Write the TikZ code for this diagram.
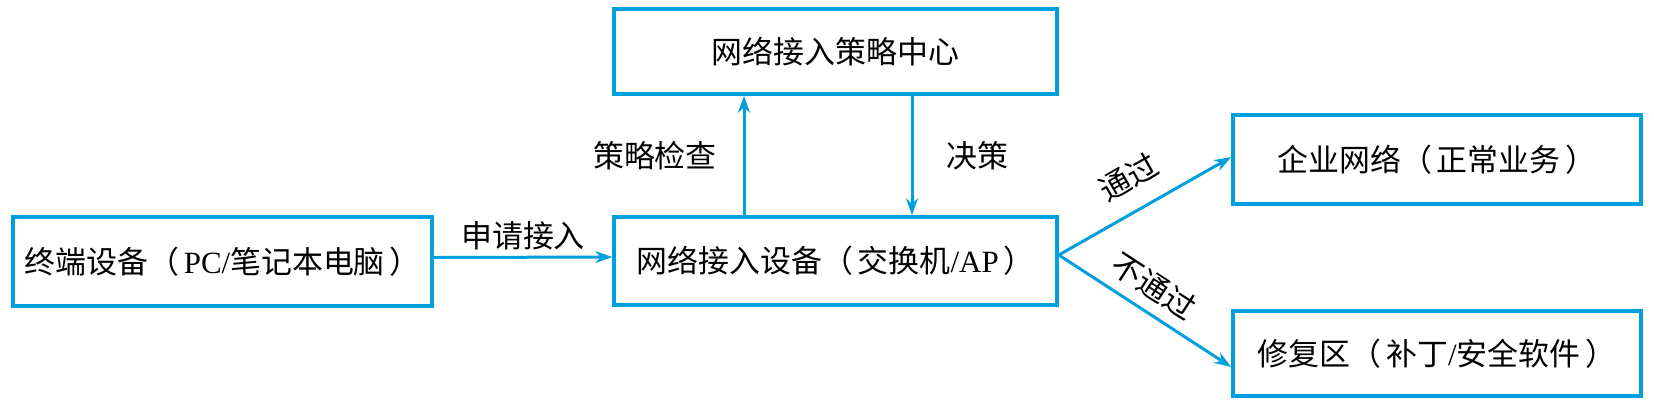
\documentclass[tikz,border=0pt]{standalone}
\usepackage{fontspec}
\setmainfont{Liberation Serif}
\newfontfamily\cjk{Noto Sans CJK SC}
\usetikzlibrary{arrows.meta}
\definecolor{linkblue}{RGB}{0,160,223}

\begin{document}
\begin{tikzpicture}[
  box/.style={draw=linkblue,line width=0.035cm,inner sep=0pt},
  flow/.style={-{Stealth[length=0.17cm,width=0.12cm]},draw=linkblue,line width=0.03cm},
  font=\fontsize{8.8pt}{10pt}\selectfont\cjk
]
\useasboundingbox (0,0) rectangle (16.54,4.06);

\node[box,minimum width=4.43cm,minimum height=0.85cm](policy center) at (8.355,3.545) {网络接入策略中心};

\node[box,minimum width=4.19cm,minimum height=0.89cm](terminal) at (2.225,1.445) {终端设备（\kern0.15em{\rmfamily PC/}笔记本电脑\kern0.15em）};
\node[box,minimum width=4.43cm,minimum height=0.88cm](access device) at (8.355,1.45) {网络接入设备（\kern0.15em交换机{\rmfamily /AP}\kern0.15em）};

\node[box,minimum width=4.08cm,minimum height=0.89cm](enterprise) at (14.37,2.465) {企业网络（\kern0.15em正常业务\kern0.15em）};
\node[box,minimum width=4.08cm,minimum height=0.85cm](repair) at (14.37,0.525) {修复区（\kern0.15em补丁{\rmfamily /}安全软件\kern0.15em）};

\draw[flow] ([yshift=0.04cm]terminal.east) to node[midway,above=-0.06cm]{申请接入} ([yshift=0.04cm]access device.west);

\draw[flow] ([xshift=-0.915cm]access device.north) to node[midway,left=0.14cm]{策略检查} ([xshift=-0.915cm]policy center.south);
\draw[flow] ([xshift=0.765cm]policy center.south) to node[midway,right=0.21cm]{决策} ([xshift=0.765cm]access device.north);

\draw[flow] ([yshift=0.06cm]access device.east) to node[midway,above=0.06cm,sloped]{通过} ([yshift=0.025cm]enterprise.west);
\draw[flow] ([yshift=0.06cm]access device.east) to node[pos=0.47,above=-0.02cm,sloped]{不通过} ([yshift=-0.135cm]repair.west);

\end{tikzpicture}
\end{document}
